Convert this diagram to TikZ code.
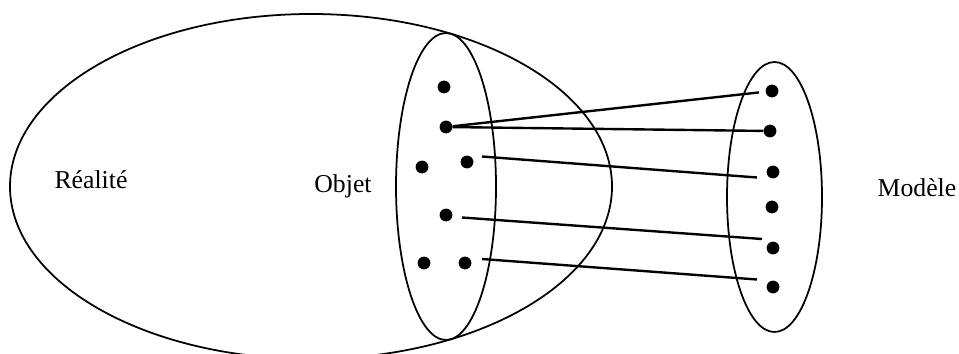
\documentclass[tikz,border=0pt]{standalone}
\usepackage{fontspec}
\setmainfont{Liberation Serif}
\usepackage{tikz}
\usetikzlibrary{arrows.meta,positioning}

\begin{document}
\begin{tikzpicture}[
  x=0.025cm, y=-0.025cm,
  font=\fontsize{18.3}{22}\selectfont,
  set/.style={line width=1.25pt},
  elem/.style={circle, fill=black, inner sep=0pt, minimum size=0.32cm},
  link/.style={line width=1.7pt},
  lbl/.style={anchor=base}
]
  \useasboundingbox (0,0) rectangle (959,354);
  \clip (0,0) rectangle (959,354);

  % sets
  \draw[set] (311,186.5) ellipse [x radius=301, y radius=172.5];
  \draw[set] (446,186.5) ellipse [x radius=50, y radius=153.5];
  \draw[set] (774.5,197) ellipse [x radius=47.5, y radius=135];

  % Objet elements
  \node[elem] (o1) at (444,87) {};
  \node[elem] (o2) at (446,127) {};
  \node[elem] (o3) at (422,167) {};
  \node[elem] (o4) at (467,162) {};
  \node[elem] (o5) at (446,215) {};
  \node[elem] (o6) at (424,263) {};
  \node[elem] (o7) at (465,263) {};

  % Modele elements
  \node[elem] (m1) at (772,91) {};
  \node[elem] (m2) at (770,131) {};
  \node[elem] (m3) at (773,172) {};
  \node[elem] (m4) at (772,207) {};
  \node[elem] (m5) at (773,248) {};
  \node[elem] (m6) at (773,287) {};

  % free ends of the mappings
  \coordinate (s3) at (482,156.5);
  \coordinate (e3) at (757,177.5);
  \coordinate (s4) at (462,217.5);
  \coordinate (e4) at (762,239);
  \coordinate (s5) at (482,259);
  \coordinate (e5) at (757,279.5);

  % mappings
  \draw[link, shorten >=0.16cm] (o2) -- (m1);
  \draw[link] (o2) -- (m2);
  \foreach \a/\b in {s3/e3, s4/e4, s5/e5} {
    \draw[link] (\a) -- (\b);
  }

  \node[lbl] (realite) at (91,188) {Réalité};
  \node[lbl] (objet) at (343,193) {Objet};
  \node[lbl] (modele) at (917,197) {Modèle};
\end{tikzpicture}
\end{document}
